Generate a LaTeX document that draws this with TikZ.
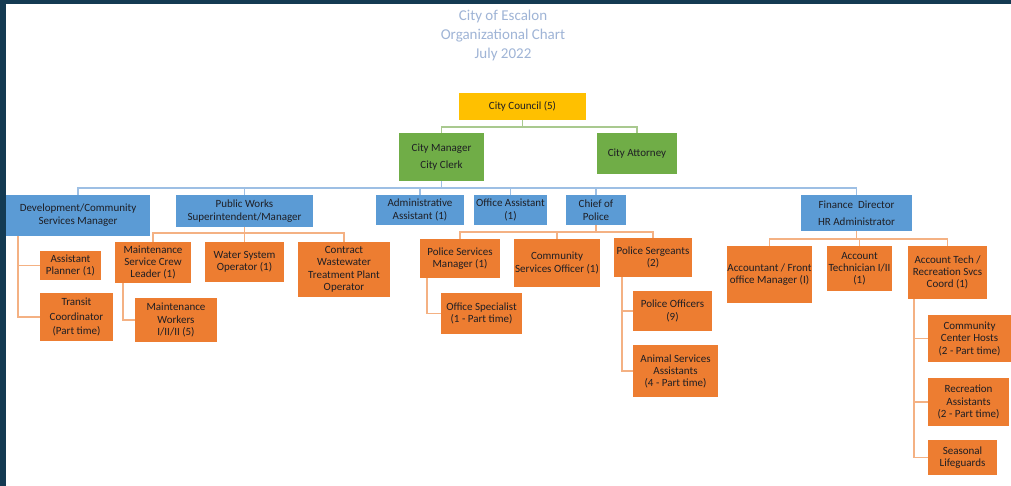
\documentclass[tikz,border=0pt]{standalone}
\usepackage{fontspec}
\setmainfont{Carlito}
\definecolor{frame}{HTML}{143A52}
\definecolor{ttl}{HTML}{9FB4D6}
\definecolor{cyel}{HTML}{FFC000}
\definecolor{cgrn}{HTML}{70AD47}
\definecolor{cblu}{HTML}{5B9BD5}
\definecolor{corg}{HTML}{ED7D31}
\definecolor{lgrn}{HTML}{A9C98F}
\definecolor{lblu}{HTML}{9DBFE4}
\definecolor{lorg}{HTML}{F4B183}
\definecolor{txt}{HTML}{1E1E24}
\begin{document}
\begin{tikzpicture}[x=1pt,y=-1pt,
  bx/.style={inner sep=0pt, align=center, text=txt, font=\fontsize{11}{12.5}\selectfont},
  yb/.style={bx, fill=cyel},
  gb/.style={bx, fill=cgrn},
  bb/.style={bx, fill=cblu},
  ob/.style={bx, fill=corg},
  gl/.style={draw=lgrn, line width=1.4pt},
  bl/.style={draw=lblu, line width=1.4pt},
  ol/.style={draw=lorg, line width=1.4pt},
  ttlstyle/.style={align=center, text=ttl, font=\fontsize{15}{19}\selectfont, inner sep=0pt}]
\useasboundingbox (0,0) rectangle (1011,486);
\fill[white] (0,0) rectangle (1011,486);
\fill[frame] (0,0) rectangle (1011,4);
\fill[frame] (0,0) rectangle (6,486);

\node[ttlstyle] (title) at (503,36) {City of Escalon\\Organizational Chart\\July 2022};

% level 1-2
\node[yb, minimum width=127pt, minimum height=27pt] (council) at (522.5,106.5) {City Council (5)};
\node[gb, minimum width=85pt, minimum height=48pt, font=\fontsize{11}{16.5}\selectfont] (manager) at (441.5,157) {City Manager\\City Clerk};
\node[gb, minimum width=80pt, minimum height=41pt] (attorney) at (637,153.5) {City Attorney};

% level 3 (blue)
\node[bb, minimum width=144pt, minimum height=41pt, font=\fontsize{11}{13}\selectfont] (dev) at (78,215.5) {Development/Community\\Services Manager};
\node[bb, minimum width=137pt, minimum height=32pt] (pw) at (244.5,211) {Public Works\\Superintendent/Manager};
\node[bb, minimum width=88pt, minimum height=30pt] (admin) at (420,210) {Administrative\\Assistant (1)};
\node[bb, minimum width=73pt, minimum height=30pt] (office) at (510.5,210) {Office Assistant\\(1)};
\node[bb, minimum width=60pt, minimum height=30pt] (chief) at (596,210) {Chief of\\Police};
\node[bb, minimum width=111pt, minimum height=36pt, font=\fontsize{11}{17}\selectfont] (fin) at (856.5,213) {Finance~ Director\\HR Administrator};

% development
\node[ob, minimum width=61pt, minimum height=29pt] (ap) at (70.5,265.5) {Assistant\\Planner (1)};
\node[ob, minimum width=73pt, minimum height=48pt, font=\fontsize{11}{14.5}\selectfont] (transit) at (76.5,317) {Transit\\Coordinator\\(Part time)};

% public works
\node[ob, minimum width=76pt, minimum height=41pt, font=\fontsize{11}{11.8}\selectfont] (mscl) at (153,262.5) {Maintenance\\Service Crew\\Leader (1)};
\node[ob, minimum width=79pt, minimum height=40pt] (water) at (244.5,262) {Water System\\Operator (1)};
\node[ob, minimum width=92pt, minimum height=55pt] (contract) at (344,269.5) {Contract\\Wastewater\\Treatment Plant\\Operator};
\node[ob, minimum width=82pt, minimum height=44pt] (mw) at (176,320) {Maintenance\\Workers\\I/II/II (5)};

% police
\node[ob, minimum width=80pt, minimum height=39pt] (psm) at (460,258.5) {Police Services\\Manager (1)};
\node[ob, minimum width=86pt, minimum height=48pt] (cso) at (557,263) {Community\\Services Officer (1)};
\node[ob, minimum width=78pt, minimum height=39pt] (sgt) at (653,257.5) {Police Sergeants\\(2)};
\node[ob, minimum width=81pt, minimum height=41pt] (os) at (481.5,313.5) {Office Specialist\\(1 - Part time)};
\node[ob, minimum width=79pt, minimum height=40pt] (po) at (672.5,311) {Police Officers\\(9)};
\node[ob, minimum width=85pt, minimum height=52pt, font=\fontsize{11}{12}\selectfont] (animal) at (675.5,371) {Animal Services\\Assistants\\(4 - Part time)};

% finance
\node[ob, minimum width=85pt, minimum height=57pt, font=\fontsize{11}{12}\selectfont] (acc) at (769.5,274.5) {Accountant / Front\\office Manager (I)};
\node[ob, minimum width=65pt, minimum height=45pt, font=\fontsize{11}{12}\selectfont] (atech) at (859.5,268.5) {Account\\Technician I/II\\(1)};
\node[ob, minimum width=79pt, minimum height=53pt, font=\fontsize{11}{12}\selectfont] (rec) at (947.5,272.5) {Account Tech /\\Recreation Svcs\\Coord (1)};
\node[ob, minimum width=83pt, minimum height=47pt] (cch) at (969.5,338.5) {Community\\Center Hosts\\(2 - Part time)};
\node[ob, minimum width=81pt, minimum height=48pt] (ra) at (968.5,402) {Recreation\\Assistants\\(2 - Part time)};
\node[ob, minimum width=69pt, minimum height=35pt] (sl) at (962.5,457.5) {Seasonal\\Lifeguards};

% connectors
\coordinate (b1) at (0,127);
\coordinate (b2) at (0,188);
\coordinate (b3) at (0,233);
\coordinate (b4) at (0,232);
\coordinate (b5) at (0,239);

\draw[gl] (council.south) -- (council.south |- b1);
\draw[gl] (manager.north) -- (manager.north |- b1) -- (attorney.north |- b1) -- (attorney.north);

\draw[bl] (manager.south) -- (manager.south |- b2);
\draw[bl] (dev.north) -- (dev.north |- b2) -- (fin.north |- b2) -- (fin.north);
\foreach \n in {pw,admin,office,chief} \draw[bl] (\n.north) -- (\n.north |- b2);

\draw[ol] (pw.south) -- (pw.south |- b3);
\draw[ol] (mscl.north) -- (mscl.north |- b3) -- (contract.north |- b3) -- (contract.north);
\draw[ol] (water.north) -- (water.north |- b3);

\draw[ol] (chief.south) -- (chief.south |- b4);
\draw[ol] (psm.north) -- (psm.north |- b4) -- (sgt.north |- b4) -- (sgt.north);
\draw[ol] (cso.north) -- (cso.north |- b4);

\draw[ol] (fin.south) -- (fin.south |- b5);
\draw[ol] (acc.north) -- (acc.north |- b5) -- (rec.north |- b5) -- (rec.north);
\draw[ol] (atech.north) -- (atech.north |- b5);

\draw[ol] ([xshift=12pt]dev.south west) |- (ap.west);
\draw[ol] ([xshift=12pt]dev.south west) |- (transit.west);
\draw[ol] ([xshift=8pt]mscl.south west) |- (mw.west);
\draw[ol] ([xshift=7pt]psm.south west) |- (os.west);
\draw[ol] ([xshift=8pt]sgt.south west) |- (po.west);
\draw[ol] ([xshift=8pt]sgt.south west) |- (animal.west);
\draw[ol] ([xshift=6pt]rec.south west) |- (cch.west);
\draw[ol] ([xshift=6pt]rec.south west) |- (ra.west);
\draw[ol] ([xshift=6pt]rec.south west) |- (sl.west);
\end{tikzpicture}
\end{document}
